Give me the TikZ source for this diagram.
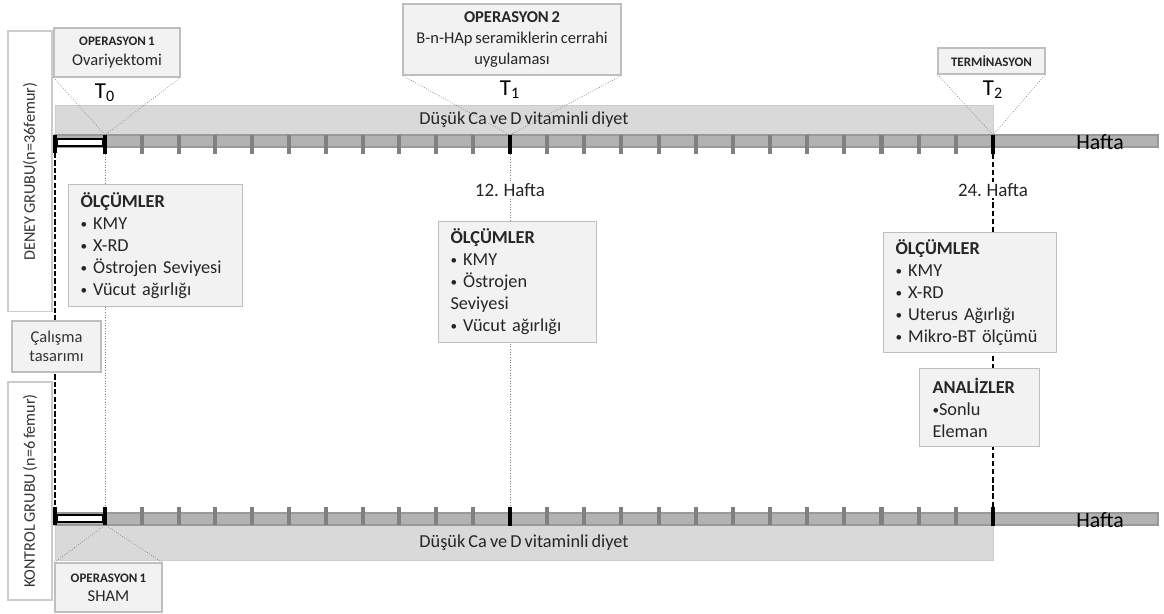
\documentclass[tikz,border=0pt]{standalone}
\usepackage{fontspec}
\setmainfont{Carlito}[WordSpace=0.75]
\usetikzlibrary{calc}
\def\fs#1#2{\fontsize{#1}{#2}\selectfont}
\def\bl{\raisebox{0.6pt}{\fs{7.5}{8}•}\ }

\begin{document}
\begin{tikzpicture}[x=0.02cm, y=-0.02cm,
  band/.style={fill=black!15, draw=black!20, line width=0.4pt},
  axis/.style={fill=black!30, draw=black!40, line width=0.8pt},
  tick/.style={draw=black!50, line width=2.3pt},
  major/.style={draw=black, line width=2.8pt},
  bracket/.style={draw=black, fill=white, line width=1.7pt},
  callout/.style={draw=black!50, line width=0.4pt, densely dotted},
  guide/.style={draw=black!50, line width=0.5pt, densely dotted},
  endline/.style={draw=black, line width=1.1pt, dash pattern=on 3pt off 1.6pt},
  grpline/.style={draw=black, line width=1.2pt, dash pattern=on 3pt off 1.2pt},
  box/.style={draw=black!25, fill=black!5, line width=0.6pt, inner sep=0pt},
  opbox/.style={box, align=center, text=black!85, font=\fs{9.4}{11}},
  olc/.style={box, anchor=north west, align=left, text=black!85, font=\fs{10.4}{12.5}, inner xsep=0.24cm},
  grpbox/.style={draw=black!20, fill=white, line width=0.6pt, inner sep=0pt, rotate=90, text=black!80, font=\fs{9.2}{11}},
  bandtext/.style={text=black!85, font=\fs{10.4}{12}},
  week/.style={fill=white, inner sep=1pt, text=black!85, font=\fs{10.8}{12}},
  tlabel/.style={text=black, font=\fs{13}{15}},
  hafta/.style={text=black, font=\fs{12.4}{14}}]
  %%%%% START %%%%%
  \useasboundingbox (0,0) rectangle (1164,614);

  % diet bands
  \draw[band] (55,105) rectangle (993,135);
  \draw[band] (55,525) rectangle (993,560);
  \node[bandtext] (dietA) at (524,120) {Düşük Ca ve D vitaminli diyet};
  \node[bandtext] (dietB) at (524,543) {Düşük Ca ve D vitaminli diyet};

  % time axes
  \draw[axis] (55,135) rectangle (1158,147);
  \draw[axis] (55,513) rectangle (1158,525);
  \foreach \i in {1,...,10} {
    \draw[tick] ({105+36.8*\i},135) -- ++(0,19);
    \draw[tick] ({105+36.8*\i},507) -- ++(0,18);
  }
  \foreach \i in {1,...,12} {
    \draw[tick] ({510+37.15*\i},135) -- ++(0,19);
    \draw[tick] ({510+37.15*\i},507) -- ++(0,18);
  }
  \node[hafta] (haftaA) at (1100,142) {Hafta};
  \node[hafta] (haftaB) at (1100,520) {Hafta};

  \coordinate (T0) at (105,135);
  \coordinate (T1) at (510,135);
  \coordinate (T2) at (993,135);
  \coordinate (B0) at (105,525);
  \coordinate (T0a) at (105,154);
  \coordinate (T1a) at (510,154);
  \coordinate (T2a) at (993,154);
  \coordinate (G0) at (55,153);
  \coordinate (B0a) at (105,507);
  \coordinate (B1a) at (510,507);
  \coordinate (B2a) at (993,507);
  \coordinate (G1) at (55,507);

  % vertical guides
  \draw[guide] (T0a) -- (B0a);
  \draw[guide] (T1a) -- (B1a);
  \draw[endline] (T2a) -- (B2a);
  \draw[grpline] (G0) -- (G1);

  % start brackets and main ticks
  \draw[bracket] (57,139) rectangle (103,146);
  \draw[bracket] (57,515) rectangle (103,522);
  \draw[major] (55,135) -- (55,153);
  \draw[major] (105,135) -- (105,154);
  \draw[major] (55,507) -- (55,525);
  \draw[major] (105,507) -- (105,525);
  \draw[major] (510,135) -- (510,154);
  \draw[major] (993,135) -- (993,154);
  \draw[major] (510,507) -- (510,526);
  \draw[major] (993,507) -- (993,526);

  % operations
  \node[opbox, minimum width=2.52cm, minimum height=0.98cm] (op1) at (117,52.5)
    {{\bfseries\fs{7.4}{9}OPERASYON 1}\\Ovariyektomi};
  \node[opbox, minimum width=4.36cm, minimum height=1.42cm, font=\fs{9.4}{11.8}] (op2) at (512,39.5)
    {\textbf{OPERASYON 2}\\B-n-HAp seramiklerin cerrahi\\uygulaması};
  \node[opbox, minimum width=2.14cm, minimum height=0.52cm] (term) at (991.5,61)
    {\bfseries\fs{7.4}{9}TERMİNASYON};
  \node[opbox, minimum width=2.14cm, minimum height=0.98cm] (sham) at (108.5,587.5)
    {{\bfseries\fs{7.4}{9}OPERASYON 1}\\SHAM};
  \draw[callout] (op1.south west) -- (T0) -- (op1.south east);
  \draw[callout] (op2.south west) -- (T1) -- (op2.south east);
  \draw[callout] (term.south west) -- (T2) -- (term.south east);
  \draw[callout] (sham.north west) -- (B0) -- (sham.north east);
  \node[tlabel] (t0) at (105,93) {T\textsubscript{0}};
  \node[tlabel] (t1) at (510,90) {T\textsubscript{1}};
  \node[tlabel] (t2) at (993,90) {T\textsubscript{2}};

  % weeks
  \node[week] (w12) at (510,190) {12. Hafta};
  \node[week] (w24) at (993,190) {24. Hafta};

  % measurements
  \node[olc, minimum width=3.48cm, minimum height=2.44cm, text width=3.0cm] (olc1) at (68,184)
    {\textbf{ÖLÇÜMLER}\\\bl KMY\\\bl X-RD\\\bl Östrojen Seviyesi\\\bl Vücut ağırlığı};
  \node[olc, minimum width=3.16cm, minimum height=2.42cm, text width=2.68cm] (olc2) at (438,221)
    {\textbf{ÖLÇÜMLER}\\\bl KMY\\\bl Östrojen\\Seviyesi\\\bl Vücut ağırlığı};
  \node[olc, minimum width=3.46cm, minimum height=2.40cm, text width=2.98cm] (olc3) at (883,232)
    {\textbf{ÖLÇÜMLER}\\\bl KMY\\\bl X-RD\\\bl Uterus Ağırlığı\\\bl Mikro-BT ölçümü};
  \node[olc, minimum width=2.40cm, minimum height=1.56cm, text width=1.88cm, inner xsep=0.26cm] (analiz) at (919,368)
    {\textbf{ANALİZLER}\\\raisebox{0.6pt}{\fs{7.5}{8}•}Sonlu\\Eleman};

  % groups
  \node[grpbox, minimum width=5.62cm, minimum height=0.88cm] (deney) at (30,171.5) {DENEY GRUBU(n=36femur)};
  \node[grpbox, minimum width=4.36cm, minimum height=0.88cm] (kontrol) at (30,491) {KONTROL GRUBU (n=6 femur)};
  \node[box, minimum width=1.78cm, minimum height=1.02cm, align=center, text=black!80, font=\fs{9.4}{11}] (calisma) at (56.5,346.5)
    {Çalışma\\tasarımı};
  %%%%% END %%%%%
\end{tikzpicture}
\end{document}
